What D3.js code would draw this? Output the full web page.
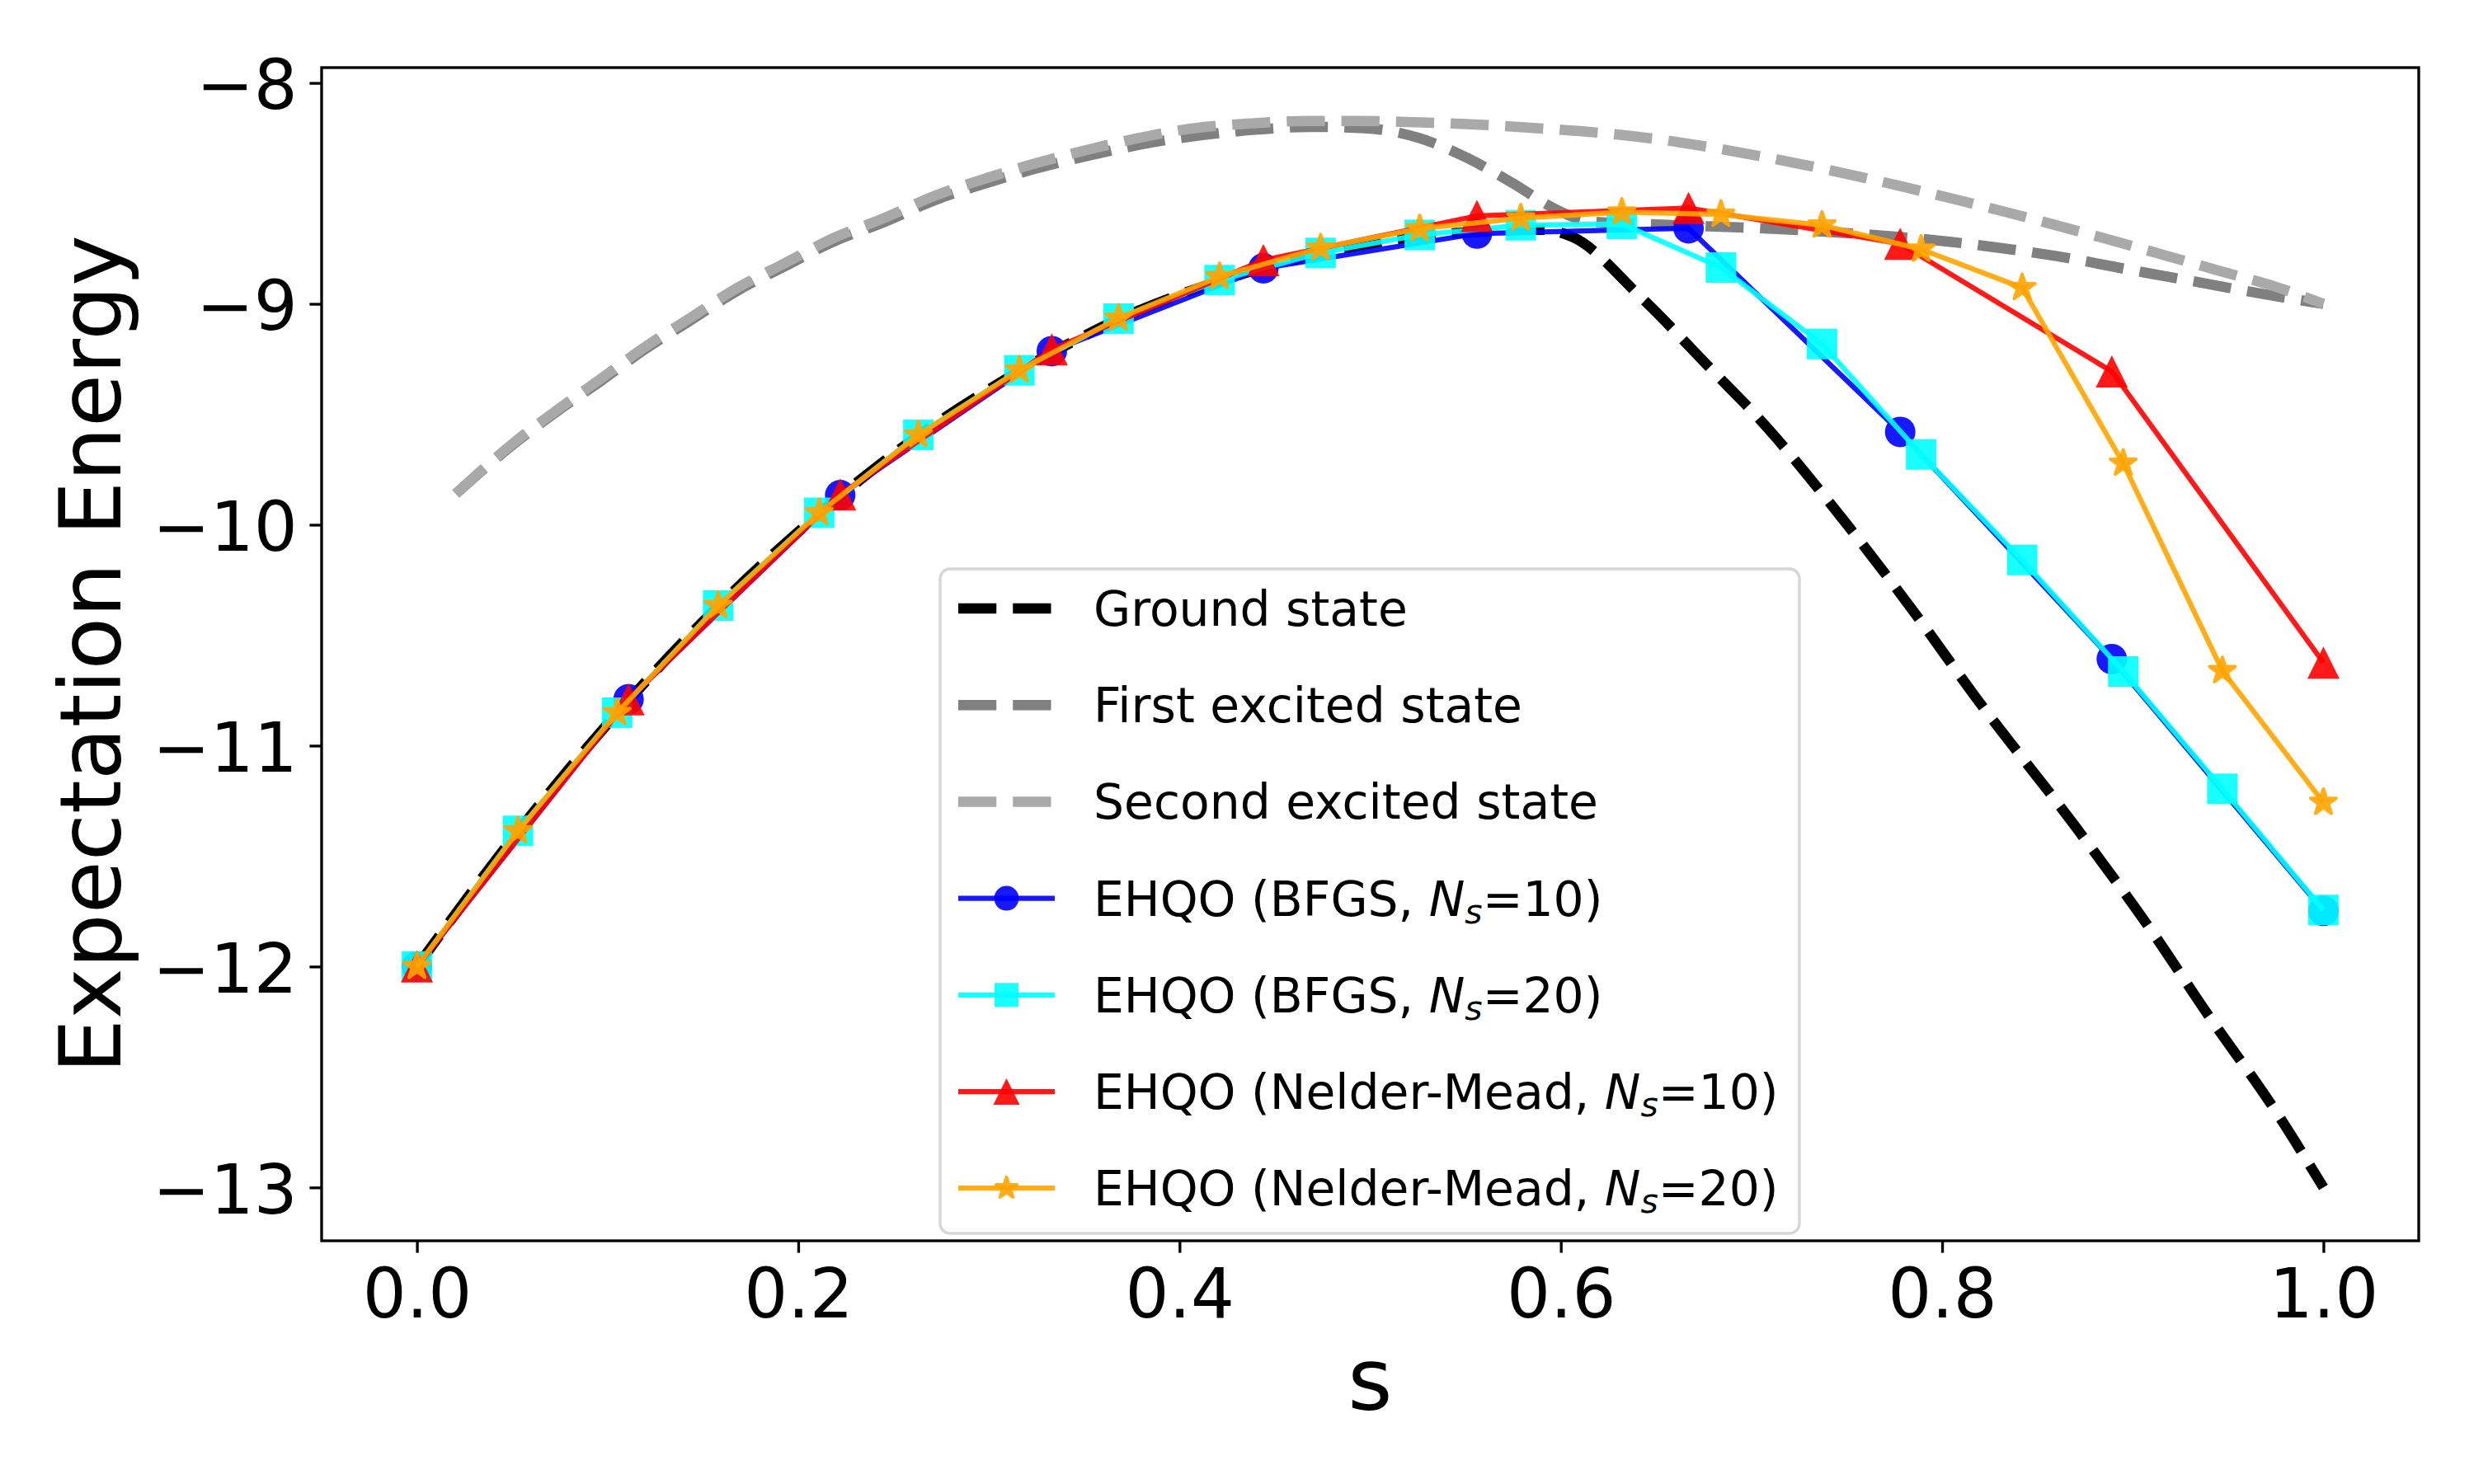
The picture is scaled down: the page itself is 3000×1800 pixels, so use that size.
<!DOCTYPE html>
<html>
<head>
<meta charset="utf-8">
<script src="https://cdn.jsdelivr.net/npm/d3@7"></script>
<style>
  body { margin: 0; background: #fff; }
  svg { display: block; }
  text { font-family: "DejaVu Sans", sans-serif; fill: #000; }
</style>
</head>
<body>
<svg id="chart"></svg>
<script>
// ---- data ----
// exact spectrum (dashed reference curves)
const groundS = [0, 0.053, 0.105, 0.158, 0.211, 0.263, 0.316, 0.368, 0.421, 0.474, 0.526, 0.564, 0.59, 0.606,
  0.642, 0.682, 0.701, 0.749, 0.786, 0.817, 0.869, 0.909, 0.94, 0.974, 1];
const groundE = [-12.0, -11.388, -10.853, -10.369, -9.95, -9.597, -9.305, -9.07, -8.897, -8.772, -8.694, -8.672, -8.665, -8.697,
  -8.97, -9.324, -9.492, -9.987, -10.404, -10.774, -11.356, -11.828, -12.225, -12.642, -13.0];

const firstS = [0.0204, 0.0496, 0.0744, 0.0965, 0.1185, 0.1433, 0.168, 0.193, 0.2178, 0.2453, 0.2713, 0.2992, 0.3253,
  0.353, 0.387, 0.412, 0.441, 0.468, 0.497, 0.5255, 0.5515, 0.576, 0.5947, 0.615, 0.648, 0.722, 0.805, 0.86, 0.906,
  0.937, 0.966, 1];
const firstE = [-9.86, -9.642, -9.481, -9.349, -9.212, -9.076, -8.941, -8.83, -8.721, -8.629, -8.532, -8.452, -8.386,
  -8.328, -8.267, -8.236, -8.211, -8.199, -8.205, -8.249, -8.342, -8.46, -8.56, -8.627, -8.64, -8.665, -8.72, -8.784, -8.858,
  -8.906, -8.952, -9.0];

const secondS = [0.0204, 0.0496, 0.0744, 0.0965, 0.1185, 0.1433, 0.168, 0.193, 0.2178, 0.2453, 0.2713, 0.2992, 0.3253,
  0.353, 0.378, 0.4095, 0.438, 0.4667, 0.4952, 0.524, 0.5526, 0.581, 0.639, 0.722, 0.805, 0.887, 0.918, 0.945, 0.974, 1];
const secondE = [-9.86, -9.637, -9.475, -9.339, -9.202, -9.064, -8.928, -8.816, -8.705, -8.611, -8.512, -8.43, -8.362,
  -8.3, -8.25, -8.203, -8.183, -8.172, -8.172, -8.178, -8.187, -8.201, -8.242, -8.361, -8.523, -8.708, -8.783, -8.85, -8.92, -9.0];

// EHQO runs
const s10 = [0, 0.111, 0.222, 0.333, 0.444, 0.556, 0.667, 0.778, 0.889, 1];
const s20 = [0, 0.053, 0.105, 0.158, 0.211, 0.263, 0.316, 0.368, 0.421, 0.474, 0.526, 0.579, 0.632, 0.684, 0.737,
  0.789, 0.842, 0.895, 0.947, 1];
const bfgs10 = [-12.0, -10.79, -9.866, -9.214, -8.839, -8.682, -8.658, -9.58, -10.608, -11.748];
const bfgs20 = [-12.0, -11.386, -10.851, -10.366, -9.946, -9.593, -9.301, -9.067, -8.893, -8.769, -8.688, -8.644, -8.638,
  -8.836, -9.182, -9.682, -10.16, -10.664, -11.195, -11.744];
const nm10 = [-12.0, -10.79, -9.863, -9.206, -8.802, -8.602, -8.566, -8.728, -9.306, -10.624];
const nm20 = [-12.0, -11.386, -10.851, -10.366, -9.946, -9.593, -9.3, -9.065, -8.877, -8.747, -8.66, -8.612, -8.585,
  -8.595, -8.644, -8.753, -8.927, -9.722, -10.661, -11.257];

const xTicks = [0, 0.2, 0.4, 0.6, 0.8, 1.0];
const yTicks = [-8, -9, -10, -11, -12, -13];

// ---- layout ----
const W = 3000, H = 1800;
const margin = { top: 82, right: 67, bottom: 295, left: 390 };
const pt = 300 / 72; // px per point

const svg = d3.select('#chart').attr('width', W).attr('height', H);

// scales with matplotlib style 5% padding
const allY = [...groundE, ...firstE, ...secondE, ...bfgs10, ...bfgs20, ...nm10, ...nm20];
const [yMin, yMax] = d3.extent(allY);
const yPad = (yMax - yMin) * 0.05;
const x = d3.scaleLinear().domain([-0.05, 1.05]).range([margin.left, W - margin.right]);
const y = d3.scaleLinear().domain([yMin - yPad, yMax + yPad]).range([H - margin.bottom, margin.top]);

// reference curves
const refCurves = [
  { s: groundS, e: groundE, color: '#000000' },
  { s: firstS, e: firstE, color: '#808080' },
  { s: secondS, e: secondE, color: '#a9a9a9' }
];
const curveLine = d3.line().x(d => x(d[0])).y(d => y(d[1])).curve(d3.curveMonotoneX);
const dash = `${3.7 * 3 * pt},${1.6 * 3 * pt}`;

refCurves.forEach(c => {
  svg.append('path')
    .attr('d', curveLine(d3.zip(c.s, c.e)))
    .attr('fill', 'none')
    .attr('stroke', c.color)
    .attr('stroke-width', 3 * pt)
    .attr('stroke-dasharray', dash);
});

// marker shapes
function markerPath(kind, big) {
  if (kind === 'circle') return d3.symbol(d3.symbolCircle, big ? 1075 : 707)();
  if (kind === 'square') return d3.symbol(d3.symbolSquare, big ? 1369 : 841)();
  if (kind === 'star') return d3.symbol(d3.symbolStar, big ? 300 : 200)();
  const h = big ? 19.5 : 16;
  return `M0,${-h}L${h},${h}L${-h},${h}Z`;
}

function styleMarker(sel, kind, color) {
  sel.attr('fill', color).attr('opacity', 0.9);
  // the star gets its edge so it reads as fat as in the original
  if (kind === 'star') sel.attr('stroke', color).attr('stroke-width', 4).attr('stroke-linejoin', 'round');
}

const series = [
  { s: s10, e: bfgs10, color: '#0000ff', marker: 'circle' },
  { s: s20, e: bfgs20, color: '#00ffff', marker: 'square' },
  { s: s10, e: nm10, color: '#ff0000', marker: 'triangle' },
  { s: s20, e: nm20, color: '#ffa500', marker: 'star' }
];
const straight = d3.line().x(d => x(d[0])).y(d => y(d[1]));

series.forEach(sr => {
  const pts = d3.zip(sr.s, sr.e);
  svg.append('path')
    .attr('d', straight(pts))
    .attr('fill', 'none')
    .attr('stroke', sr.color)
    .attr('stroke-width', 1.5 * pt)
    .attr('stroke-linejoin', 'round')
    .attr('opacity', 0.9);
  svg.append('g').selectAll('path')
    .data(pts)
    .enter()
    .append('path')
    .attr('d', markerPath(sr.marker, true))
    .attr('transform', d => `translate(${x(d[0])},${y(d[1])})`)
    .call(styleMarker, sr.marker, sr.color);
});

// axes
const tickLen = 3.5 * pt;
const fs = 20 * pt;

const gx = svg.append('g')
  .attr('transform', `translate(0,${H - margin.bottom})`)
  .call(d3.axisBottom(x).tickValues(xTicks).tickFormat(d3.format('.1f')).tickSize(tickLen));
gx.select('.domain').remove();
gx.selectAll('.tick line').attr('stroke', '#000').attr('stroke-width', 0.8 * pt);
gx.selectAll('.tick text').attr('y', 93).attr('dy', 0)
  .style('font-size', fs + 'px').style('font-family', '"DejaVu Sans", sans-serif').attr('fill', '#000');

const gy = svg.append('g')
  .attr('transform', `translate(${margin.left},0)`)
  .call(d3.axisLeft(y).tickValues(yTicks).tickFormat(d3.format('d')).tickSize(tickLen));
gy.select('.domain').remove();
gy.selectAll('.tick line').attr('stroke', '#000').attr('stroke-width', 0.8 * pt);
gy.selectAll('.tick text').attr('x', -2 * tickLen).attr('dy', '0.37em')
  .style('font-size', fs + 'px').style('font-family', '"DejaVu Sans", sans-serif').attr('fill', '#000');

// frame
svg.append('rect')
  .attr('x', margin.left).attr('y', margin.top)
  .attr('width', W - margin.left - margin.right)
  .attr('height', H - margin.top - margin.bottom)
  .attr('fill', 'none').attr('stroke', '#000').attr('stroke-width', 0.8 * pt);

// axis labels
svg.append('text')
  .attr('x', (margin.left + W - margin.right) / 2)
  .attr('y', 1710)
  .attr('text-anchor', 'middle')
  .style('font-size', (25 * pt) + 'px')
  .text('s');

svg.append('text')
  .attr('transform', `translate(146,${(margin.top + H - margin.bottom) / 2}) rotate(-90)`)
  .attr('text-anchor', 'middle')
  .style('font-size', (25 * pt) + 'px')
  .text('Expectation Energy');

// legend
const legendItems = [
  { parts: [['Ground state']], color: '#000000', dashed: true },
  { parts: [['First excited state']], color: '#808080', dashed: true },
  { parts: [['Second excited state']], color: '#a9a9a9', dashed: true },
  { parts: [['EHQO (BFGS, '], ['N', 'i'], ['s', 'sub'], ['=10)']], color: '#0000ff', marker: 'circle' },
  { parts: [['EHQO (BFGS, '], ['N', 'i'], ['s', 'sub'], ['=20)']], color: '#00ffff', marker: 'square' },
  { parts: [['EHQO (Nelder-Mead, '], ['N', 'i'], ['s', 'sub'], ['=10)']], color: '#ff0000', marker: 'triangle' },
  { parts: [['EHQO (Nelder-Mead, '], ['N', 'i'], ['s', 'sub'], ['=20)']], color: '#ffa500', marker: 'star' }
];

const lfs = 14 * pt;
const legend = svg.append('g');
legend.append('rect')
  .attr('x', 1140).attr('y', 690).attr('width', 1042).attr('height', 806)
  .attr('rx', 12).attr('ry', 12)
  .attr('fill', '#fff').attr('fill-opacity', 0.8)
  .attr('stroke', '#cccccc').attr('stroke-opacity', 0.8).attr('stroke-width', 0.8 * pt);

legendItems.forEach((it, i) => {
  const cy = 738 + i * 117.2;
  const line = legend.append('line')
    .attr('x1', 1162).attr('x2', 1279).attr('y1', cy).attr('y2', cy)
    .attr('stroke', it.color);
  if (it.dashed) {
    line.attr('stroke-width', 3 * pt).attr('stroke-dasharray', dash);
  } else {
    line.attr('stroke-width', 1.5 * pt).attr('opacity', 0.9);
    legend.append('path')
      .attr('d', markerPath(it.marker, false))
      .attr('transform', `translate(${(1162 + 1279) / 2},${cy})`)
      .call(styleMarker, it.marker, it.color);
  }
  const t = legend.append('text')
    .attr('x', 1326).attr('y', cy + 21)
    .style('font-size', lfs + 'px');
  it.parts.forEach(([str, kind]) => {
    const ts = t.append('tspan').text(str);
    if (kind === 'i') ts.style('font-style', 'italic');
    if (kind === 'sub') ts.style('font-style', 'italic').style('font-size', (lfs * 0.7) + 'px').attr('dy', 9);
    if (kind === undefined && str.startsWith('=')) ts.attr('dy', -9);
  });
});
</script>
</body>
</html>
